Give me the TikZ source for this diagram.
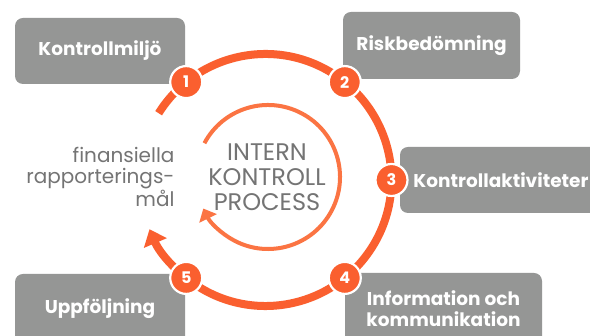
\documentclass[tikz,border=0pt]{standalone}
\usepackage{fontspec}
\setmainfont{Poppins}
\usetikzlibrary{arrows.meta}

\definecolor{ringorange}{HTML}{FA5F2F}
\definecolor{innerorange}{HTML}{FB7443}
\definecolor{boxgray}{HTML}{959695}
\definecolor{textgray}{HTML}{747474}

\tikzset{
  stepbox/.style={fill=boxgray, rounded corners=8pt, text=white, font=\fontsize{18.5}{21}\selectfont\bfseries, align=center, inner sep=0pt},
  numdot/.style={circle, fill=ringorange, draw=white, line width=2.2pt, minimum size=32pt, inner sep=0pt, text=white, font=\fontsize{16}{16}\selectfont\bfseries},
  grayline/.style={text=textgray, font=\fontsize{20}{21.5}\selectfont}
}

\begin{document}
\begin{tikzpicture}[x=1pt,y=1pt]
\clip (0,0) rectangle (590,336);
\fill[white] (0,0) rectangle (590,336);
\coordinate (o) at (265.5,156);
\coordinate (i) at (268,159);
\node[stepbox, minimum width=170, minimum height=66] (miljo) at (100,285) {Kontrollmiljö};
\node[stepbox, minimum width=177, minimum height=67] (risk) at (431.5,290.5) {Riskbedömning};
\node[stepbox, minimum width=202, minimum height=66] (akt) at (501,156) {Kontrollaktiviteter};
\node[stepbox, minimum width=197, minimum height=71] (info) at (443.5,27.5) {Information och\\kommunikation};
\node[stepbox, minimum width=170, minimum height=70] (uppf) at (100,27) {Uppföljning};
\draw[ringorange, line width=8pt, -{Triangle[width=24pt,length=15pt]}] ([shift={(148:126pt)}]o) arc[start angle=148, end angle=-157, radius=126pt];
\draw[innerorange, line width=4pt, -{Triangle[width=19pt,length=11pt]}] ([shift={(152:72pt)}]i) arc[start angle=152, end angle=-154, radius=72pt];
\node[numdot] (n1) at ([shift={(129:126pt)}]o) {1};
\node[numdot] (n2) at ([shift={(51:126pt)}]o) {2};
\node[numdot] (n3) at ([shift={(0:126pt)}]o) {3};
\node[numdot] (n4) at ([shift={(-51:126pt)}]o) {4};
\node[numdot] (n5) at ([shift={(-129:126pt)}]o) {5};
\node[grayline, align=center, font=\fontsize{24}{25}\selectfont] (proc) at (267,159) {INTERN\\KONTROLL\\PROCESS};
\node[grayline, align=right, anchor=east] (mal) at (178,159) {finansiella\\rapporterings-\\mål};
\end{tikzpicture}
\end{document}
